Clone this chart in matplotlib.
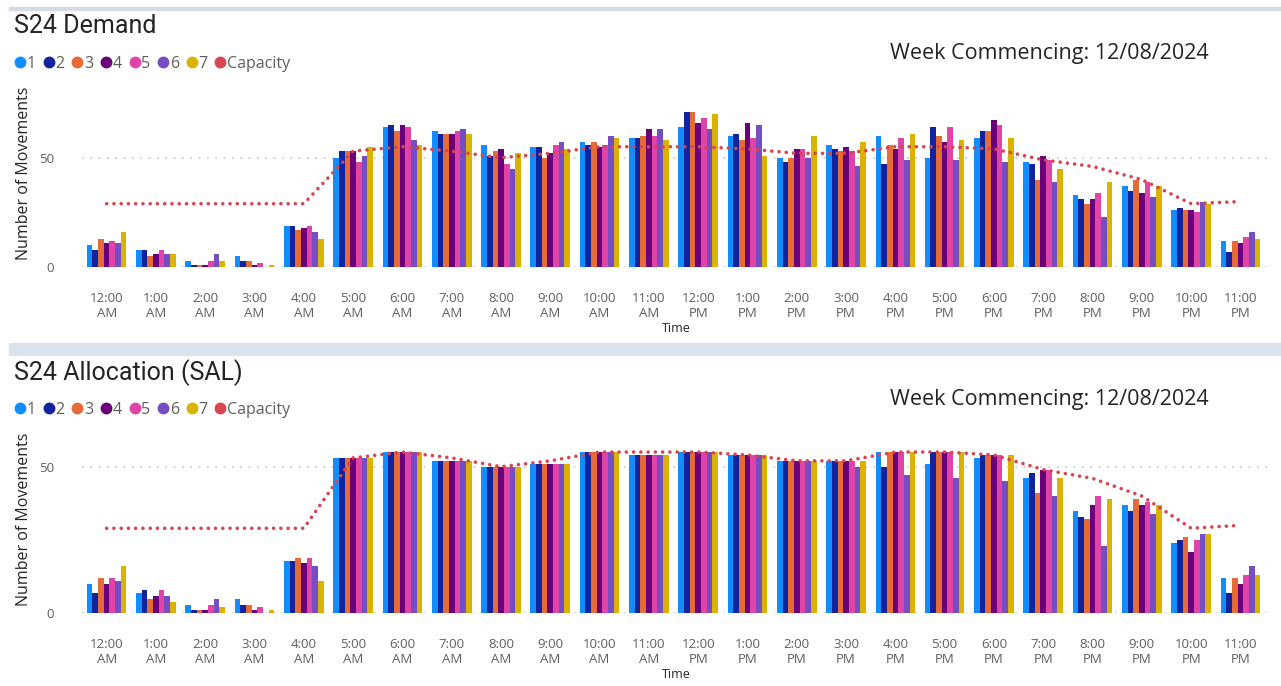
import numpy as np
import matplotlib
matplotlib.use("Agg")
import matplotlib.pyplot as plt
from matplotlib.lines import Line2D
from matplotlib.patches import Rectangle

# =============================================================================
# Data
# =============================================================================
hours = ["12:00\nAM", "1:00\nAM", "2:00\nAM", "3:00\nAM", "4:00\nAM", "5:00\nAM",
         "6:00\nAM", "7:00\nAM", "8:00\nAM", "9:00\nAM", "10:00\nAM", "11:00\nAM",
         "12:00\nPM", "1:00\nPM", "2:00\nPM", "3:00\nPM", "4:00\nPM", "5:00\nPM",
         "6:00\nPM", "7:00\nPM", "8:00\nPM", "9:00\nPM", "10:00\nPM", "11:00\nPM"]
series_names = ["1", "2", "3", "4", "5", "6", "7"]

# demand per hour, one row per hour, columns = series 1..7
demand = [
    [10, 8, 13, 11, 12, 11, 16],
    [8, 8, 5, 6, 8, 6, 6],
    [3, 1, 1, 1, 3, 6, 3],
    [5, 3, 3, 1, 2, 0, 1],
    [19, 19, 17, 18, 19, 16, 13],
    [50, 53, 53, 53, 48, 51, 55],
    [64, 65, 62, 65, 64, 58, 56],
    [62, 61, 61, 61, 62, 63, 61],
    [56, 51, 53, 54, 47, 45, 52],
    [55, 55, 50, 52, 56, 57, 54],
    [57, 56, 57, 55, 56, 60, 59],
    [59, 59, 60, 63, 60, 63, 58],
    [64, 71, 71, 66, 68, 63, 70],
    [60, 61, 58, 66, 59, 65, 51],
    [50, 48, 50, 54, 54, 50, 60],
    [56, 54, 53, 55, 53, 46, 57],
    [60, 47, 56, 54, 59, 49, 61],
    [50, 64, 60, 57, 64, 49, 58],
    [59, 62, 62, 67, 65, 48, 59],
    [48, 47, 40, 51, 49, 39, 45],
    [33, 31, 29, 31, 34, 23, 39],
    [37, 35, 40, 34, 39, 32, 37],
    [26, 27, 26, 26, 25, 30, 29],
    [12, 7, 12, 11, 14, 16, 13],
]

allocation = [
    [10, 7, 12, 10, 12, 11, 16],
    [7, 8, 5, 6, 8, 6, 4],
    [3, 1, 1, 1, 3, 5, 2],
    [5, 3, 3, 1, 2, 0, 1],
    [18, 18, 19, 17, 19, 16, 11],
    [53, 53, 53, 53, 53, 53, 53],
    [55, 55, 55, 55, 55, 55, 55],
    [52, 52, 52, 52, 52, 52, 52],
    [50, 50, 50, 50, 50, 50, 50],
    [51, 51, 51, 51, 51, 51, 51],
    [55, 55, 55, 55, 55, 55, 55],
    [54, 54, 54, 54, 54, 54, 54],
    [55, 55, 55, 55, 55, 55, 55],
    [54, 54, 54, 54, 54, 54, 54],
    [52, 52, 52, 52, 52, 52, 52],
    [52, 52, 52, 52, 52, 50, 52],
    [55, 50, 55, 55, 55, 47, 55],
    [51, 55, 55, 55, 55, 46, 55],
    [53, 54, 54, 54, 54, 45, 54],
    [46, 48, 41, 49, 49, 40, 46],
    [35, 33, 32, 37, 40, 23, 39],
    [37, 35, 39, 37, 38, 34, 37],
    [24, 25, 26, 21, 25, 27, 27],
    [12, 7, 12, 10, 13, 16, 13],
]

capacity = [29, 29, 29, 29, 29, 53, 55, 53, 50, 52, 55, 55,
            55, 54, 52, 52, 55, 55, 54, 49, 46, 40, 29, 30]

week_label = "Week Commencing: 12/08/2024"

colors = ["#118DFF", "#12239E", "#E66C37", "#6B007B", "#E044A7", "#744EC2", "#D9B300"]
cap_color = "#D64550"

# =============================================================================
# Figure
# =============================================================================
W, H = 1281, 686
fig = plt.figure(figsize=(W / 100, H / 100), dpi=100)
plt.rcParams['font.family'] = ['Open Sans', 'DejaVu Sans']


def px(x, y):
    return x / W, 1 - y / H


def panel(title, values, top_px, zero_px, fifty_px, title_y, legend_y):
    vals = np.array(values)
    unit = (zero_px - fifty_px) / 50
    left, right = 82, 1270
    ax = fig.add_axes([left / W, 1 - zero_px / H, (right - left) / W, (zero_px - top_px) / H])
    x = np.arange(len(hours))
    w = 0.115
    for i, name in enumerate(series_names):
        ax.bar(x + (i - 3) * w, vals[:, i], width=w, color=colors[i], linewidth=0, zorder=2)
    ax.plot(x, capacity, color=cap_color, lw=2.6, linestyle=(0, (0.01, 2.0)),
            dash_capstyle='round', solid_capstyle='round', zorder=3)
    ax.set_xlim(-0.5, 23.6)
    ax.set_ylim(0, (zero_px - top_px) / unit)
    ax.set_yticks([0, 50])
    ax.set_xticks(x)
    ax.set_xticklabels(hours, fontsize=9.5, color="#605E5C", linespacing=1.2)
    ax.tick_params(axis='x', length=0, pad=18)
    ax.tick_params(axis='y', length=0, pad=20, labelsize=9.5, labelcolor="#605E5C")
    for s in ax.spines.values():
        s.set_visible(False)
    ax.grid(axis='y', color="#C8C6C4", linestyle=(0, (1, 4)), lw=1.2, zorder=0)
    ax.set_axisbelow(True)
    ax.set_ylabel("Number of Movements", fontsize=11.5, color="#252423", labelpad=5)
    ax.set_xlabel("Time", fontsize=9, color="#252423", labelpad=1)

    fig.text(*px(14, title_y), title, fontsize=18, color="#252423",
             family=['Roboto', 'DejaVu Sans'], va='center', ha='left')
    fig.text(*px(890, legend_y - 11), week_label, fontsize=15.5, color="#252423",
             va='center', ha='left')
    handles = [Line2D([], [], marker='o', ls='', color=c, markersize=7.5) for c in colors]
    handles.append(Line2D([], [], marker='o', ls='', color=cap_color, markersize=7.5))
    fig.legend(handles, series_names + ["Capacity"], loc='center left',
               bbox_to_anchor=px(9, legend_y), ncol=8, frameon=False,
               handlelength=0.6, handletextpad=0.12, columnspacing=0.5,
               fontsize=11.5, labelcolor="#605E5C", borderaxespad=0)
    return ax


panel("S24 Demand", demand, 80, 267.3, 157.7, 26, 64)
panel("S24 Allocation (SAL)", allocation, 425, 613.3, 466.7, 373, 410)

# header strip and separator band
fig.patches.append(Rectangle(px(9, 10), 1 - 9 / W, 3 / H, transform=fig.transFigure,
                             color="#D5DCE6", zorder=0))
fig.patches.append(Rectangle(px(9, 355), 1 - 9 / W, 12 / H, transform=fig.transFigure,
                             color="#DDE3EC", zorder=0))

fig.savefig("out.png", dpi=100, facecolor="white")
